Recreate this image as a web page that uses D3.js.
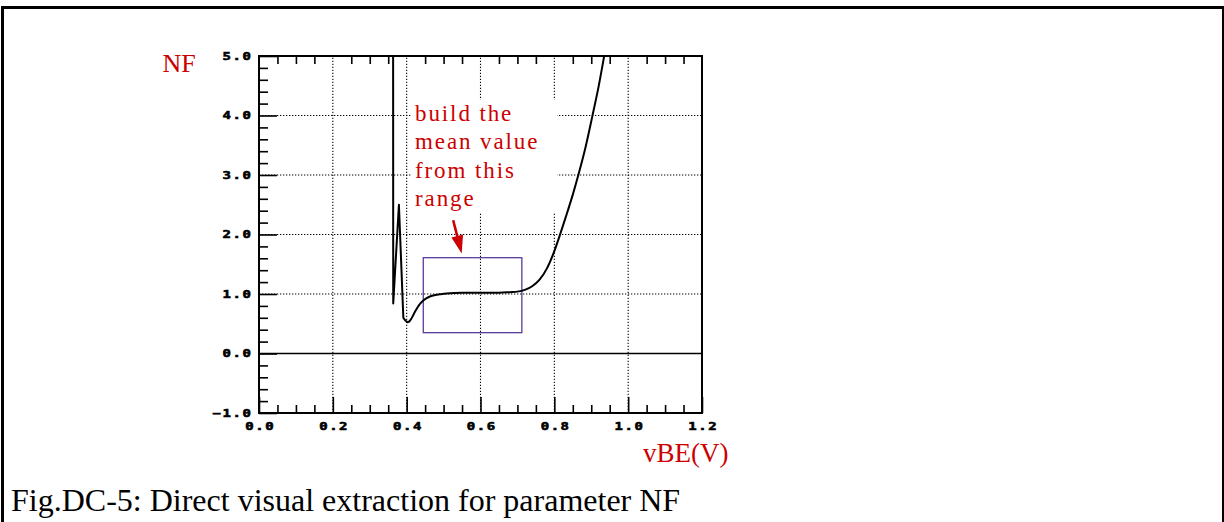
<!DOCTYPE html>
<html>
<head>
<meta charset="utf-8">
<script src="https://cdn.jsdelivr.net/npm/d3@7"></script>
<style>
  html, body { margin: 0; padding: 0; background: #fff; }
  svg { display: block; }
  .axis text { font-family: "DejaVu Sans Mono", monospace; font-weight: bold; font-size: 10px;
               fill: #000; stroke: #000; stroke-width: 0.55px; }
  .axis line { stroke: #000; stroke-width: 1.6; }
  .axis path.domain { display: none; }
</style>
</head>
<body>
<svg id="chart" width="1224" height="522"></svg>
<script>
// Emission coefficient NF versus base-emitter voltage vBE
const vbe = [0.3632, 0.3636, 0.379, 0.391, 0.397, 0.404, 0.410, 0.4225, 0.433, 0.445,
             0.460, 0.472, 0.490, 0.508, 0.550, 0.600, 0.650, 0.680, 0.700, 0.720,
             0.740, 0.760, 0.780, 0.800, 0.815, 0.830, 0.850, 0.865, 0.885, 0.903,
             0.920, 0.935, 0.945];
const nf  = [6.50, 0.84, 2.50, 0.60, 0.55, 0.52, 0.56, 0.70, 0.81, 0.89,
             0.95, 0.975, 0.995, 1.01, 1.02, 1.02, 1.02, 1.03, 1.04, 1.07,
             1.13, 1.24, 1.43, 1.72, 1.99, 2.275, 2.67, 3.00, 3.48, 3.99,
             4.49, 5.00, 5.35];
// the oscillation before this index is drawn with straight segments
const smoothFrom = 5;

// Axis ticks
const xTicks = [0.0, 0.2, 0.4, 0.6, 0.8, 1.0, 1.2];
const yTicks = [-1.0, 0.0, 1.0, 2.0, 3.0, 4.0, 5.0];
const xMinor = [0.05, 0.10, 0.15, 0.25, 0.30, 0.35, 0.45, 0.50, 0.55, 0.65, 0.70, 0.75,
                0.85, 0.90, 0.95, 1.05, 1.10, 1.15];
const yMinor = [-0.8, -0.6, -0.4, -0.2, 0.2, 0.4, 0.6, 0.8, 1.2, 1.4, 1.6, 1.8,
                2.2, 2.4, 2.6, 2.8, 3.2, 3.4, 3.6, 3.8, 4.2, 4.4, 4.6, 4.8];

// Averaging window (vBE range and NF range)
const windowVbe = [0.445, 0.712];
const windowNf  = [0.35, 1.61];

// Annotation text and its arrow (data coordinates)
const noteLines = ["build the", "mean value", "from this", "range"];
const noteAnchor = [0.4226, 3.91];
const arrowFrom = [0.526, 2.24];
const arrowTo   = [0.549, 1.68];

const RED = "#cc0000";
const svg = d3.select("#chart");

const plot = { left: 259, right: 702, top: 56, bottom: 413 };
const x = d3.scaleLinear().domain([0, 1.2]).range([plot.left, plot.right]);
const y = d3.scaleLinear().domain([-1, 5]).range([plot.bottom, plot.top]);

// page frame (top, left, right edges)
svg.append("path")
  .attr("d", "M2.5,522 V7.5 H1223")
  .attr("fill", "none").attr("stroke", "#000").attr("stroke-width", 3);
svg.append("line")
  .attr("x1", 1223).attr("x2", 1223).attr("y1", 6).attr("y2", 522)
  .attr("stroke", "#000").attr("stroke-width", 2);

// dotted grid
const grid = svg.append("g").attr("stroke", "#000").attr("stroke-width", 1.1)
  .attr("stroke-dasharray", "1.3,1.7");
grid.selectAll("line.gx").data(xTicks.slice(1, -1)).join("line")
  .attr("x1", d => x(d)).attr("x2", d => x(d))
  .attr("y1", y(-1)).attr("y2", y(5));
grid.selectAll("line.gy").data(yTicks.slice(1, -1).filter(d => d !== 0)).join("line")
  .attr("y1", d => y(d)).attr("y2", d => y(d))
  .attr("x1", x(0)).attr("x2", x(1.2));

// solid zero line
svg.append("line")
  .attr("x1", x(0)).attr("x2", x(1.2)).attr("y1", y(0)).attr("y2", y(0))
  .attr("stroke", "#000").attr("stroke-width", 1.6);

// annotation with white backing
const note = svg.append("g");
const noteBg = note.append("rect").attr("fill", "#fff");
const noteText = note.append("text")
  .attr("x", x(noteAnchor[0])).attr("y", y(noteAnchor[1]))
  .attr("fill", RED)
  .style("font-family", "'Liberation Serif', 'Times New Roman', serif")
  .style("font-size", "23px")
  .style("letter-spacing", "1.9px");
noteText.selectAll("tspan").data(noteLines).join("tspan")
  .attr("x", x(noteAnchor[0]))
  .attr("dy", (d, i) => i === 0 ? 0 : 28.5)
  .text(d => d);
const bb = noteText.node().getBBox();
noteBg.attr("x", bb.x - 4).attr("y", bb.y - 1)
  .attr("width", 557 - (bb.x - 4)).attr("height", bb.height + 2);

// averaging window box
svg.append("rect")
  .attr("x", x(windowVbe[0])).attr("y", y(windowNf[1]))
  .attr("width", x(windowVbe[1]) - x(windowVbe[0]))
  .attr("height", y(windowNf[0]) - y(windowNf[1]))
  .attr("fill", "none").attr("stroke", "#5a3a9c").attr("stroke-width", 1.3);

// NF curve, clipped to the plot area
svg.append("clipPath").attr("id", "plotclip").append("rect")
  .attr("x", plot.left).attr("y", plot.top)
  .attr("width", plot.right - plot.left).attr("height", plot.bottom - plot.top);
const pts = d3.zip(vbe, nf);
const sharp = d3.line().x(d => x(d[0])).y(d => y(d[1]));
const smooth = d3.line().x(d => x(d[0])).y(d => y(d[1])).curve(d3.curveMonotoneX);
const curve = svg.append("g").attr("clip-path", "url(#plotclip)")
  .attr("fill", "none").attr("stroke", "#000").attr("stroke-width", 2)
  .attr("stroke-linejoin", "round");
curve.append("path").attr("d", sharp(pts.slice(0, smoothFrom + 1)));
curve.append("path").attr("d", smooth(pts.slice(smoothFrom)));

// arrow pointing at the window
{
  const x0 = x(arrowFrom[0]), y0 = y(arrowFrom[1]);
  const x1 = x(arrowTo[0]), y1 = y(arrowTo[1]);
  const len = Math.hypot(x1 - x0, y1 - y0);
  const ux = (x1 - x0) / len, uy = (y1 - y0) / len;
  const hl = 18, hw = 6;
  const bx = x1 - ux * hl, by = y1 - uy * hl;
  svg.append("line").attr("x1", x0).attr("y1", y0).attr("x2", bx + ux * 2).attr("y2", by + uy * 2)
    .attr("stroke", RED).attr("stroke-width", 2.6);
  svg.append("path")
    .attr("d", `M${x1},${y1} L${bx - uy * hw},${by + ux * hw} L${bx + uy * hw},${by - ux * hw} Z`)
    .attr("fill", RED);
}

// plot frame
svg.append("rect")
  .attr("x", plot.left).attr("y", plot.top)
  .attr("width", plot.right - plot.left).attr("height", plot.bottom - plot.top)
  .attr("fill", "none").attr("stroke", "#000").attr("stroke-width", 2);

// axes
const fmt = d3.format(".1f");
const SX = 1.4;   // widened plotter-style tick labels

const yAxis = svg.append("g").attr("class", "axis")
  .attr("transform", `translate(${plot.left},0)`)
  .call(d3.axisLeft(y).tickValues(yTicks).tickSize(-18).tickPadding(6).tickFormat(fmt));
yAxis.selectAll("text")
  .attr("transform", `scale(${SX},1)`)
  .attr("x", -6.5 / SX)
  .style("letter-spacing", "1.1px");
svg.append("g").attr("class", "axis")
  .attr("transform", `translate(${plot.left},0)`)
  .call(d3.axisLeft(y).tickValues(yMinor).tickSize(-9).tickFormat(""));

const xAxis = svg.append("g").attr("class", "axis")
  .attr("transform", `translate(0,${plot.bottom})`)
  .call(d3.axisBottom(x).tickValues(xTicks).tickSize(-16).tickPadding(10).tickFormat(fmt));
xAxis.selectAll("text")
  .attr("transform", `scale(${SX},1)`)
  .attr("dx", 0.8 / SX)
  .style("letter-spacing", "1.1px");
svg.append("g").attr("class", "axis")
  .attr("transform", `translate(0,${plot.bottom})`)
  .call(d3.axisBottom(x).tickValues(xMinor).tickSize(-8).tickFormat(""));
svg.append("g").attr("class", "axis")
  .attr("transform", `translate(0,${plot.top})`)
  .call(d3.axisTop(x).tickValues(xMinor).tickSize(-8).tickFormat(""));

// axis titles
const serif = "'Liberation Serif', 'Times New Roman', serif";
svg.append("text").attr("x", 162.5).attr("y", 72.3).attr("fill", RED)
  .style("font-family", serif).style("font-size", "26px").text("NF");
svg.append("text").attr("x", 643).attr("y", 462).attr("fill", RED)
  .style("font-family", serif).style("font-size", "27px").text("vBE(V)");

// caption
svg.append("text").attr("x", 11).attr("y", 511).attr("fill", "#000")
  .style("font-family", serif).style("font-size", "32px")
  .text("Fig.DC-5: Direct visual extraction for parameter NF");
</script>
</body>
</html>
